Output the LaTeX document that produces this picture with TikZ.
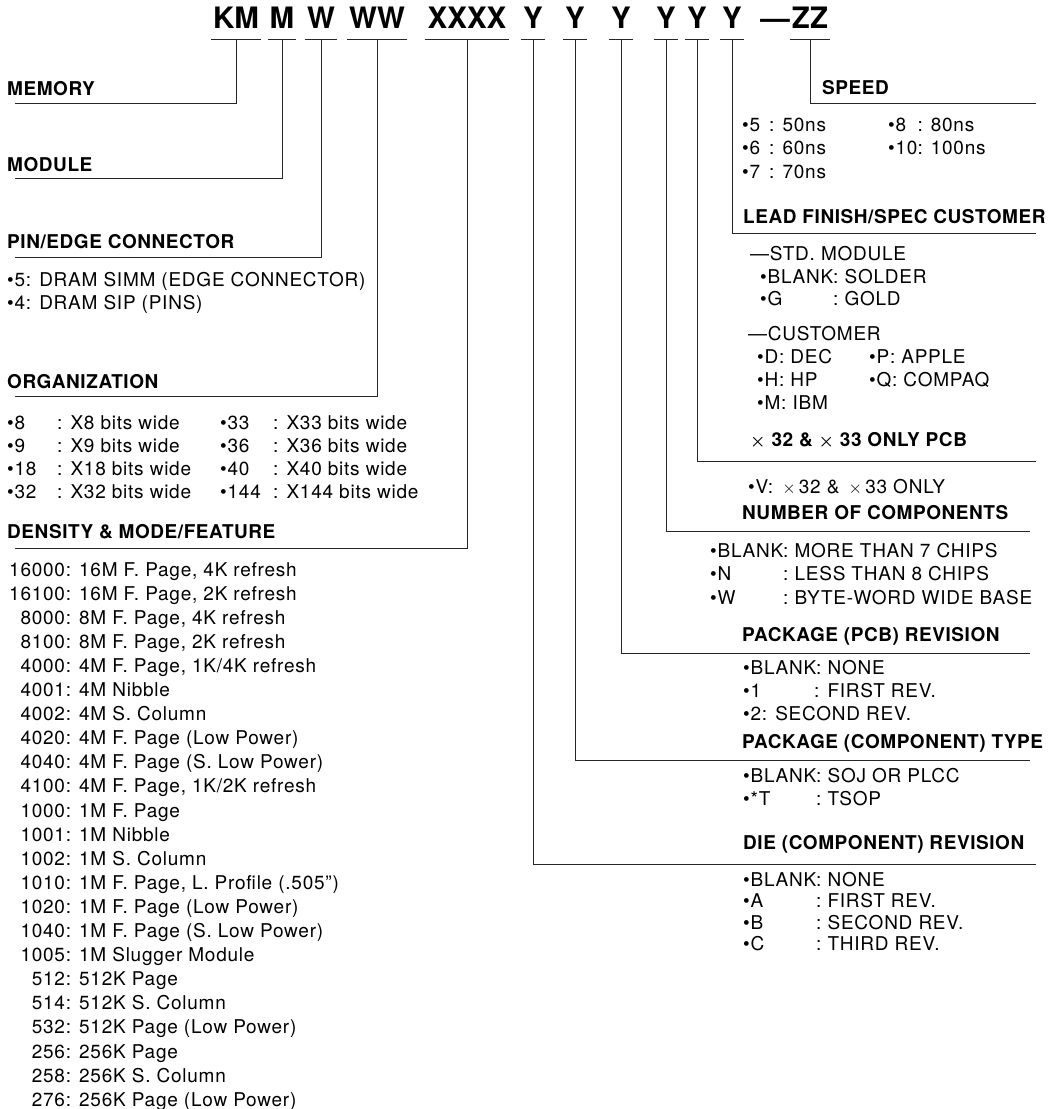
\documentclass[tikz,border=0pt]{standalone}
\usepackage{fontspec}
\setmainfont{TeX Gyre Heros}
\newfontfamily\bodyfam[LetterSpace=4]{TeX Gyre Heros}
\newfontfamily\headfam[LetterSpace=3]{TeX Gyre Heros}

\begin{document}
\begin{tikzpicture}[
  x=1pt, y=-1pt,
  code/.style={font=\fontsize{29.5}{30}\selectfont\bfseries, anchor=south,
               inner xsep=2pt, inner ysep=10pt, text depth=0pt},
  head/.style={font=\headfam\fontsize{19}{23}\selectfont\bfseries,
               anchor=base west, inner sep=0pt},
  list/.style={font=\bodyfam\fontsize{19}{23}\selectfont,
               anchor=base west, inner sep=0pt},
  lead/.style={line width=0.9pt, black!85},
]

\useasboundingbox (0,0) rectangle (1051,1109);

% ---- Part number ----
\node[code] (km)   at (236, 39) {KM};
\node[code] (mm)   at (282, 39) {M};
\node[code] (pw)   at (321, 39) {W};
\node[code] (ww)   at (377, 39) {WW};
\node[code] (xx)   at (467, 39) {XXXX};
\node[code] (ya)   at (533, 39) {Y};
\node[code] (yb)   at (575, 39) {Y};
\node[code] (yc)   at (621, 39) {Y};
\node[code] (yd)   at (666, 39) {Y};
\node[code] (ye)   at (697, 39) {Y};
\node[code] (yf)   at (732, 39) {Y};
\node[code] (dash) at (775, 39) {—};
\node[code] (zz)   at (810, 39) {ZZ};

\foreach \c in {km, mm, pw, ww, xx, ya, yb, yc, yd, ye, yf, zz}
  \draw[lead] (\c.south west) -- (\c.south east);

% ---- Left fields ----
\node[head] (memory) at (7, 95)  {MEMORY};
\node[head] (module) at (7, 171) {MODULE};
\node[head] (pin)    at (7, 248) {PIN/EDGE CONNECTOR};
\node[list] (pinlst) at (7, 286)
  {\begin{tabular}[t]{@{}l@{}}
   •5: DRAM SIMM (EDGE CONNECTOR)\\
   •4: DRAM SIP (PINS)
   \end{tabular}};

\node[head] (org)   at (7, 388) {ORGANIZATION};
\node[list, font=\bodyfam\fontsize{19}{23.3}\selectfont] (orga) at (7, 429)
  {\begin{tabular}[t]{@{}p{50pt}@{: }l@{}}
   •8  & X8 bits wide\\
   •9  & X9 bits wide\\
   •18 & X18 bits wide\\
   •32 & X32 bits wide
   \end{tabular}};
\node[list, font=\bodyfam\fontsize{19}{23.3}\selectfont] (orgb) at (220, 429)
  {\begin{tabular}[t]{@{}p{53pt}@{: }l@{}}
   •33  & X33 bits wide\\
   •36  & X36 bits wide\\
   •40  & X40 bits wide\\
   •144 & X144 bits wide
   \end{tabular}};

\node[head] (density) at (7, 538) {DENSITY \& MODE/FEATURE};
\node[list, font=\bodyfam\fontsize{19}{24.1}\selectfont] (denlst) at (9, 576)
  {\begin{tabular}[t]{@{}r@{: }l@{}}
   16000 & 16M F. Page, 4K refresh\\
   16100 & 16M F. Page, 2K refresh\\
   8000 & 8M F. Page, 4K refresh\\
   8100 & 8M F. Page, 2K refresh\\
   4000 & 4M F. Page, 1K/4K refresh\\
   4001 & 4M Nibble\\
   4002 & 4M S. Column\\
   4020 & 4M F. Page (Low Power)\\
   4040 & 4M F. Page (S. Low Power)\\
   4100 & 4M F. Page, 1K/2K refresh\\
   1000 & 1M F. Page\\
   1001 & 1M Nibble\\
   1002 & 1M S. Column\\
   1010 & 1M F. Page, L. Profile (.505”)\\
   1020 & 1M F. Page (Low Power)\\
   1040 & 1M F. Page (S. Low Power)\\
   1005 & 1M Slugger Module\\
   512 & 512K Page\\
   514 & 512K S. Column\\
   532 & 512K Page (Low Power)\\
   256 & 256K Page\\
   258 & 256K S. Column\\
   276 & 256K Page (Low Power)
   \end{tabular}};

% ---- Right fields ----
\node[head] (speed) at (822, 94) {SPEED};
\node[list, font=\bodyfam\fontsize{19}{23.5}\selectfont] (speeda) at (742, 131)
  {\begin{tabular}[t]{@{}p{27pt}@{: }l@{}}
   •5 & 50ns\\
   •6 & 60ns\\
   •7 & 70ns
   \end{tabular}};
\node[list, font=\bodyfam\fontsize{19}{23.5}\selectfont] (speedb) at (888, 131)
  {\begin{tabular}[t]{@{}l@{: }l@{}}
   •8  & 80ns\\
   •10 & 100ns
   \end{tabular}};

\node[head] (finish) at (743, 223) {LEAD FINISH/SPEC CUSTOMER};
\node[list] (stdhd) at (750, 260) {—STD. MODULE};
\node[list, font=\bodyfam\fontsize{19}{22.5}\selectfont] (stdlst) at (760, 283)
  {\begin{tabular}[t]{@{}l@{: }l@{}}
   •BLANK & SOLDER\\
   •G     & GOLD
   \end{tabular}};
\node[list] (custhd) at (748, 340) {—CUSTOMER};
\node[list] (custlst) at (757, 363)
  {\begin{tabular}[t]{@{}p{100pt}l@{}}
   •D: DEC & •P: APPLE\\
   •H: HP  & •Q: COMPAQ\\
   •M: IBM &
   \end{tabular}};

\node[head] (pcbonly) at (750, 446)
  {{\boldmath$\times$} 32 \& {\boldmath$\times$} 33 ONLY PCB};
\node[list] (vlst) at (748, 493) {•V: \,$\times$\,32 \& \,$\times$\,33 ONLY};

\node[head] (number) at (742, 519) {NUMBER OF COMPONENTS};
\node[list, font=\bodyfam\fontsize{19}{23.5}\selectfont] (numlst) at (710, 557)
  {\begin{tabular}[t]{@{}l@{: }l@{}}
   •BLANK & MORE THAN 7 CHIPS\\
   •N     & LESS THAN 8 CHIPS\\
   •W     & BYTE-WORD WIDE BASE
   \end{tabular}};

\node[head] (pcbrev) at (742, 641) {PACKAGE (PCB) REVISION};
\node[list] (pcblst) at (743, 674)
  {\begin{tabular}[t]{@{}l@{: }l@{}}
   •BLANK & NONE\\
   •1     & FIRST REV.\\
   \multicolumn{2}{@{}l@{}}{•2: SECOND REV.}
   \end{tabular}};

\node[head] (pkgtype) at (742, 748) {PACKAGE (COMPONENT) TYPE};
\node[list] (pkglst) at (743, 782)
  {\begin{tabular}[t]{@{}l@{: }l@{}}
   •BLANK & SOJ OR PLCC\\
   •*T    & TSOP
   \end{tabular}};

\node[head] (dierev) at (743, 849) {DIE (COMPONENT) REVISION};
\node[list, font=\bodyfam\fontsize{19}{21.5}\selectfont] (dielst) at (743, 886)
  {\begin{tabular}[t]{@{}l@{: }l@{}}
   •BLANK & NONE\\
   •A     & FIRST REV.\\
   •B     & SECOND REV.\\
   •C     & THIRD REV.
   \end{tabular}};

% ---- Leader lines ----
\coordinate (memend)  at (15, 103);
\coordinate (modend)  at (15, 178);
\coordinate (pinend)  at (15, 257);
\coordinate (orgend)  at (15, 396);
\coordinate (denend)  at (15, 548);
\coordinate (spdend)  at (1036, 103);
\coordinate (finend)  at (1036, 233);
\coordinate (pcbend)  at (1036, 461);
\coordinate (numend)  at (1030, 531);
\coordinate (revend)  at (1030, 653);
\coordinate (typend)  at (1030, 760);
\coordinate (dieend)  at (1036, 864);

\draw[lead] (km.south) |- (memend);
\draw[lead] (mm.south) |- (modend);
\draw[lead] (pw.south) |- (pinend);
\draw[lead] (ww.south) |- (orgend);
\draw[lead] (xx.south) |- (denend);
\draw[lead] (ya.south) |- (dieend);
\draw[lead] (yb.south) |- (typend);
\draw[lead] (yc.south) |- (revend);
\draw[lead] (yd.south) |- (numend);
\draw[lead] (ye.south) |- (pcbend);
\draw[lead] (yf.south) |- (finend);
\draw[lead] (zz.south) |- (spdend);

\end{tikzpicture}
\end{document}
